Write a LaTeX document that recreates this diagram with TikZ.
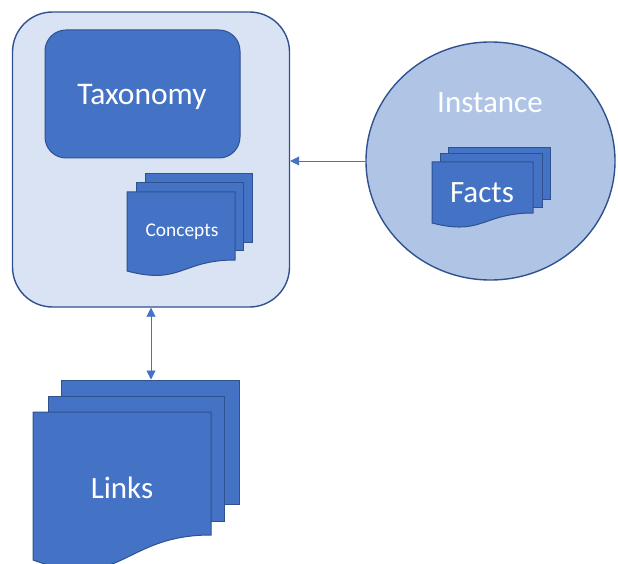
\documentclass[tikz,border=0pt]{standalone}
\usepackage{fontspec}
\setmainfont{Carlito}
\usetikzlibrary{arrows.meta,shapes.geometric}

\definecolor{docblue}{HTML}{4472C4}
\definecolor{docline}{HTML}{2F528F}
\definecolor{boxfill}{HTML}{DAE3F3}
\definecolor{circfill}{HTML}{B0C4E6}

\tikzset{
    sheet/.style={draw=docline, fill=docblue, line width=1pt, inner sep=0pt},
    label/.style={text=white, inner sep=0pt},
    link/.style={draw=docblue, line width=0.9pt},
}

% front sheet with a wavy bottom: left, top, right, bottom right, bottom left
\newcommand{\wavesheet}[5]{%
    \draw[sheet] (#1,#2) -- (#3,#2) -- (#3,#4)
        .. controls ({(#1+#3)/2},#4) and ({(#1+#3)/2},{#4+2.31*(#5-#4)}) .. (#1,#5) -- cycle;}

\begin{document}
\begin{tikzpicture}[x=1pt,y=-1pt]
        \useasboundingbox (0,0) rectangle (618,564);

        %the schema box with taxonomy and concepts
        \node[draw=docline, fill=boxfill, line width=1.4pt, rounded corners=40pt,
              minimum width=277pt, minimum height=295pt] (schema) at (151,159.5) {};
        \node[draw=docline, fill=docblue, line width=1pt, rounded corners=21pt,
              minimum width=195pt, minimum height=128pt] (taxonomy) at (142.5,94) {};
        \node[label] (taxonomytitle) at (142,97) {\fontsize{31.5}{31.5}\selectfont Taxonomy};

        \node[sheet, minimum width=107pt, minimum height=68pt] (conceptsback) at (198.5,208) {};
        \node[sheet, minimum width=107pt, minimum height=67pt] (conceptsmid) at (189.5,216.5) {};
        \wavesheet{127}{192}{235}{260}{271}
        \node[label] (concepts) at (182,232) {\fontsize{19.4}{19.4}\selectfont Concepts};

        %the instance circle with facts
        \node[draw=docline, fill=circfill, line width=1.4pt, ellipse,
              minimum width=249pt, minimum height=238pt] (instance) at (490.5,161) {};
        \node[label] (instancetitle) at (490,103) {\fontsize{31}{31}\selectfont Instance};

        \node[sheet, minimum width=102pt, minimum height=52pt] (factsback) at (499,174) {};
        \node[sheet, minimum width=102pt, minimum height=53pt] (factsmid) at (491,180.5) {};
        \wavesheet{432}{162}{533}{213}{223}
        \node[label] (facts) at (482,193) {\fontsize{31}{31}\selectfont Facts};

        %the links documents
        \node[sheet, minimum width=178pt, minimum height=124pt] (linksback) at (150,442) {};
        \node[sheet, minimum width=176pt, minimum height=125pt] (linksmid) at (136,458.5) {};
        \wavesheet{33}{412}{211}{535}{560}
        \node[label] (links) at (122,488) {\fontsize{31}{31}\selectfont Links};

        %connectors
        \draw[link, -{Triangle[length=9pt,width=9pt]}] (instance.west) -- (instance.west -| schema.east);
        \draw[link, {Triangle[length=9pt,width=9pt]}-{Triangle[length=9pt,width=9pt]}]
            (schema.south) -- (schema.south |- linksback.north);
\end{tikzpicture}
\end{document}
